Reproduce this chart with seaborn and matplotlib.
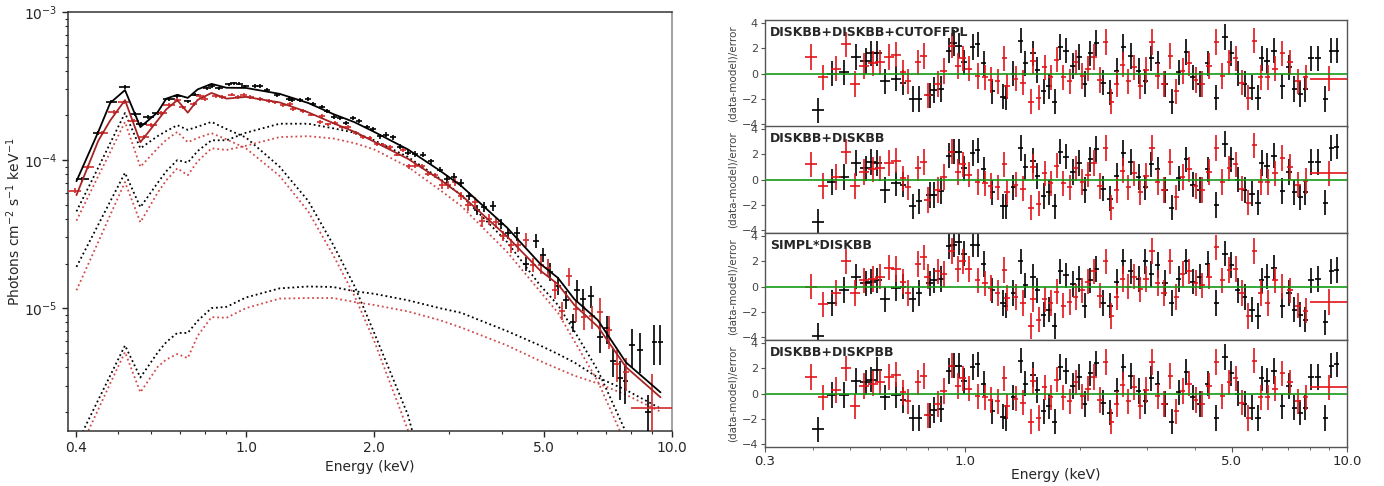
import numpy as np
import pandas as pd
import matplotlib
matplotlib.use("Agg")
import matplotlib.pyplot as plt
from matplotlib.ticker import FixedLocator, FixedFormatter, NullFormatter
import seaborn as sns

sns.set_style("ticks")
plt.rcParams['font.family'] = ['DejaVu Sans']

# ---------- model curves (left panel) ----------
model_e = [0.40, 0.45, 0.48, 0.52, 0.565, 0.62, 0.65, 0.69, 0.73, 0.77, 0.83, 0.90, 1.0, 1.2,
           1.4, 1.6, 1.8, 2.0, 2.4, 2.85, 3.2, 4.1, 4.9, 5.4, 5.9, 6.7, 7.8, 9.4]
nan = np.nan
tot_b = [7.2e-5, 1.55e-4, 2.43e-4, 2.97e-4, 1.67e-4, 2.1e-4, 2.6e-4, 2.76e-4, 2.63e-4, 3.0e-4,
         3.27e-4, 3.08e-4, 3.07e-4, 2.8e-4, 2.43e-4, 2.05e-4, 1.8e-4, 1.55e-4, 1.18e-4, 8.5e-5,
         6.7e-5, 3.5e-5, 2.0e-5, 1.6e-5, 1.15e-5, 8.3e-6, 4.3e-6, 2.7e-6]
tot_r = [5.8e-5, 1.35e-4, 1.85e-4, 2.54e-4, 1.32e-4, 1.85e-4, 2.2e-4, 2.54e-4, 2.09e-4, 2.55e-4,
         2.84e-4, 2.6e-4, 2.67e-4, 2.45e-4, 2.1e-4, 1.78e-4, 1.55e-4, 1.33e-4, 1.02e-4, 7.4e-5,
         5.8e-5, 3.05e-5, 1.8e-5, 1.45e-5, 1.05e-5, 7.5e-6, 4.0e-6, 2.5e-6]
cool_b = [4.5e-5, 8.9e-5, 1.3e-4, 2.08e-4, 1.2e-4, 1.45e-4, 1.57e-4, 1.72e-4, 1.6e-4, 1.68e-4,
          1.81e-4, 1.62e-4, 1.42e-4, 9.0e-5, 5.3e-5, 2.7e-5, 1.4e-5, 6.8e-6, 1.9e-6, 3.0e-7,
          nan, nan, nan, nan, nan, nan, nan, nan]
cool_r = [3.9e-5, 7.8e-5, 1.13e-4, 1.81e-4, 9.0e-5, 1.2e-4, 1.37e-4, 1.55e-4, 1.32e-4, 1.41e-4,
          1.52e-4, 1.38e-4, 1.2e-4, 7.8e-5, 4.5e-5, 2.3e-5, 1.2e-5, 6.0e-6, 1.5e-6, 2.5e-7,
          nan, nan, nan, nan, nan, nan, nan, nan]
hot_b = [1.9e-5, 3.66e-5, 5.25e-5, 8.2e-5, 4.8e-5, 7.0e-5, 8.4e-5, 1.0e-4, 9.6e-5, 1.15e-4,
         1.36e-4, 1.36e-4, 1.53e-4, 1.76e-4, 1.76e-4, 1.64e-4, 1.53e-4, 1.36e-4, 1.05e-4, 7.5e-5,
         5.8e-5, 2.8e-5, 1.43e-5, 1.05e-5, 7.0e-6, 3.8e-6, 1.45e-6, 3.0e-7]
hot_r = [1.32e-5, 2.8e-5, 4.25e-5, 7.1e-5, 3.8e-5, 6.0e-5, 7.3e-5, 8.8e-5, 7.9e-5, 9.8e-5,
         1.2e-4, 1.17e-4, 1.25e-4, 1.43e-4, 1.45e-4, 1.4e-4, 1.3e-4, 1.18e-4, 9.0e-5, 6.3e-5,
         4.9e-5, 2.4e-5, 1.3e-5, 9.3e-6, 6.0e-6, 3.2e-6, 1.2e-6, 2.5e-7]
cpl_b = [1.2e-6, 2.4e-6, 3.5e-6, 5.6e-6, 3.4e-6, 5.0e-6, 5.9e-6, 6.8e-6, 6.8e-6, 8.2e-6,
         1.0e-5, 1.02e-5, 1.18e-5, 1.36e-5, 1.4e-5, 1.39e-5, 1.3e-5, 1.25e-5, 1.13e-5, 1.0e-5,
         9.3e-6, 7.0e-6, 5.6e-6, 4.9e-6, 4.3e-6, 3.4e-6, 2.8e-6, 2.1e-6]
cpl_r = [1.0e-6, 2.07e-6, 3.1e-6, 5.05e-6, 2.7e-6, 4.0e-6, 4.5e-6, 4.9e-6, 4.6e-6, 6.5e-6,
         8.7e-6, 8.6e-6, 1.0e-5, 1.16e-5, 1.17e-5, 1.17e-5, 1.1e-5, 1.05e-5, 9.5e-6, 8.3e-6,
         7.4e-6, 5.6e-6, 4.4e-6, 3.9e-6, 3.5e-6, 3.1e-6, 2.6e-6, 2.0e-6]

# ---------- data points (black = first spectrum, red = second) ----------
e_b = [0.413, 0.45, 0.483, 0.52, 0.55, 0.568, 0.59, 0.62, 0.66, 0.69, 0.73, 0.76, 0.81, 0.83,
       0.865, 0.91, 0.935, 0.965, 0.995,
       1.05, 1.08, 1.12, 1.18, 1.26, 1.28, 1.34, 1.40, 1.44, 1.51, 1.55, 1.61, 1.66, 1.72, 1.78,
       1.84, 1.92, 1.99,
       2.06, 2.13, 2.21, 2.30, 2.40, 2.50, 2.60, 2.72, 2.85,
       2.97, 3.08, 3.20, 3.34,
       3.48, 3.63, 3.80, 3.96, 4.12,
       4.32, 4.55, 4.80, 4.98,
       5.18, 5.40, 5.65, 5.85,
       5.98, 6.18, 6.45,
       6.78, 7.05, 7.28,
       7.55, 7.78, 8.05, 8.40, 8.78, 9.10, 9.40]
flux_b = [7.4e-5, 1.52e-4, 2.48e-4, 3.12e-4, 2.05e-4, 1.75e-4, 1.95e-4, 2.08e-4, 2.58e-4, 2.7e-4,
          2.5e-4, 2.76e-4, 3.05e-4, 3.16e-4, 3.05e-4, 3.25e-4, 3.3e-4, 3.28e-4, 3.15e-4,
          3.18e-4, 3.16e-4, 2.97e-4, 2.73e-4, 2.57e-4, 2.53e-4, 2.54e-4, 2.6e-4, 2.4e-4, 2.3e-4,
          2.16e-4, 1.96e-4, 1.92e-4, 1.79e-4, 1.93e-4, 1.84e-4, 1.68e-4, 1.62e-4,
          1.45e-4, 1.48e-4, 1.43e-4, 1.23e-4, 1.12e-4, 1.1e-4, 1.09e-4, 9.8e-5, 8.6e-5,
          7.5e-5, 7.7e-5, 7.0e-5, 5.7e-5,
          4.6e-5, 4.85e-5, 4.9e-5, 3.7e-5, 3.2e-5,
          3.2e-5, 2.0e-5, 2.85e-5, 2.3e-5,
          1.76e-5, 1.42e-5, 1.14e-5, 8.0e-6,
          1.33e-5, 1.15e-5, 1.2e-5,
          6.4e-6, 7.3e-6, 4.4e-6,
          3.4e-6, 3.2e-6, 5.6e-6, 5.2e-6, 2.0e-6, 5.9e-6, 5.9e-6]
relerr_b = ([0.035, 0.03, 0.028, 0.025, 0.028, 0.028, 0.027, 0.027, 0.025, 0.025] + [0.025] * 9
            + [0.03] * 18 + [0.04] * 9 + [0.06] * 4 + [0.08] * 5 + [0.11] * 4 + [0.14] * 4
            + [0.17] * 3 + [0.22] * 3 + [0.3] * 7)
halfw_b = [0.035] + [0.03] * 8 + [0.02] * 10 + [0.016] * 57

e_r = [0.396, 0.426, 0.46, 0.49, 0.517, 0.545, 0.575, 0.60, 0.633, 0.66, 0.69, 0.71, 0.754, 0.78,
       0.80, 0.85, 0.88, 0.925, 0.96, 0.988, 1.024,
       1.08, 1.13, 1.17, 1.22, 1.27, 1.29, 1.36, 1.42, 1.49, 1.51, 1.56, 1.62, 1.68, 1.74, 1.81,
       1.88, 1.95, 2.03, 2.10, 2.18, 2.26, 2.34,
       2.42, 2.50, 2.59, 2.68, 2.78,
       2.88, 2.98, 3.09, 3.20,
       3.32, 3.45, 3.58, 3.72, 3.86, 4.02,
       4.18, 4.36, 4.55, 4.72,
       4.92, 5.12, 5.32, 5.52, 5.72,
       5.95, 6.20, 6.48,
       6.78, 7.10, 7.45, 7.80,
       9.00]
flux_r = [6.2e-5, 9.0e-5, 1.52e-4, 2.12e-4, 2.45e-4, 1.85e-4, 1.43e-4, 1.72e-4, 2.07e-4, 2.37e-4,
          2.55e-4, 2.27e-4, 2.4e-4, 2.7e-4, 2.58e-4, 2.72e-4, 2.67e-4, 2.77e-4, 2.68e-4, 2.74e-4,
          2.67e-4,
          2.57e-4, 2.5e-4, 2.45e-4, 2.37e-4, 2.4e-4, 2.22e-4, 2.15e-4, 2.03e-4, 1.82e-4, 1.98e-4,
          1.74e-4, 1.78e-4, 1.66e-4, 1.67e-4, 1.53e-4, 1.44e-4, 1.42e-4, 1.29e-4, 1.26e-4,
          1.23e-4, 1.09e-4, 1.17e-4,
          9.1e-5, 9.15e-5, 9.1e-5, 8.1e-5, 7.9e-5,
          6.8e-5, 6.8e-5, 7.1e-5, 5.7e-5,
          4.95e-5, 5.2e-5, 3.85e-5, 3.99e-5, 3.8e-5, 3.08e-5,
          2.65e-5, 2.69e-5, 2.9e-5, 1.97e-5,
          1.97e-5, 1.88e-5, 1.33e-5, 9.6e-6, 1.65e-5,
          9.8e-6, 8.7e-6, 8.8e-6,
          9.4e-6, 7.1e-6, 4.2e-6, 3.7e-6,
          2.1e-6]
relerr_r = ([0.04, 0.035] + [0.03] * 8 + [0.028] * 11 + [0.03] * 22 + [0.04] * 5 + [0.06] * 4
            + [0.08] * 6 + [0.11] * 4 + [0.14] * 5 + [0.18] * 3 + [0.25] * 4 + [0.7])
halfw_r = [0.035] + [0.03] * 9 + [0.02] * 11 + [0.016] * 53 + [0.111]

# ---------- residuals, (data-model)/error, for the four fits ----------
panel_labels = ["DISKBB+DISKBB+CUTOFFPL", "DISKBB+DISKBB", "SIMPL*DISKBB", "DISKBB+DISKPBB"]

res1_b = [-2.9, 0.0, 0.1, 1.3, 1.0, 1.6, 1.6, -0.6, -0.4, -0.7, -2.0, -2.0, -1.7, -1.3, -1.2, 1.8, 2.4, 2.2, 0.9,
          2.1, 2.3, 0.8, -1.4, -1.8, -1.9, 0.0, 2.6, 0.8, 1.6, 0.3, -1.4, -1.0, -2.2, 2.1, 1.8, 0.6, 1.3,
          -0.8, 1.6, 2.4, -0.7, -1.5, 0.2, 2.1, 1.4, 0.2,
          -0.6, 1.2, 0.8, -0.8,
          -2.2, 0.1, 1.7, -0.3, -0.8,
          0.8, -1.9, 2.9, 1.6,
          0.0, -0.8, -1.1, -1.9,
          1.2, 1.0, 1.8,
          -1.0, 0.5, -1.2,
          -1.6, -1.2, 1.2, 1.2, -2.0, 1.8, 1.8]
res1_r = [1.3, -0.3, 0.4, 2.3, -0.8, 0.6, 0.8, 0.9, 1.3, 1.5, 0.1, -0.6, 0.9, 1.4, -1.7, -0.8, 0.2, 2.2, 0.6, 1.2, 0.4,
          -0.2, -0.3, -0.5, -0.6, 1.2, -1.0, -0.4, -0.7, -2.2, 1.0, -1.9, 0.5, -0.3, 1.1, -0.3, -0.6, 0.9, -0.2,
          0.4, 1.3, -0.5, 2.5,
          -2.2, -0.8, 0.7, -0.6, 0.5,
          -1.0, 0.3, 2.5, -0.2,
          -0.8, 1.4, -1.4, 0.2, 0.8, -0.5,
          -0.8, 0.6, 2.5, -0.2,
          0.9, 1.2, -0.7, -1.9, 2.6,
          -0.3, -0.3, 0.4,
          1.6, 0.9, -0.6, -0.3,
          -0.4]

res2_b = [-3.3, -0.2, 0.2, 1.3, 0.9, 1.4, 1.3, -0.8, -0.3, -0.4, -2.1, -1.7, -1.2, -1.2, -0.9, 1.9, 2.2, 2.2, 0.9,
          2.1, 2.3, 0.8, -1.0, -2.1, -2.1, -0.6, 2.5, 1.0, 1.5, 0.3, -1.3, -1.0, -2.1, 2.2, 1.8, 0.6, 1.3,
          -0.8, 1.6, 2.4, -0.7, -1.5, 0.3, 2.1, 1.4, 0.2,
          -0.6, 1.2, 0.8, -0.8,
          -2.2, 0.1, 1.6, -0.4, -0.8,
          0.8, -2.0, 2.8, 1.6,
          0.0, -0.8, -1.1, -1.8,
          1.3, 1.1, 1.9,
          -0.9, 0.6, -1.0,
          -1.4, -1.0, 1.4, 1.4, -1.8, 2.5, 2.6]
res2_r = [1.2, -0.5, 0.2, 2.2, -0.5, 0.6, 0.8, 0.9, 1.3, 1.5, 0.1, -0.6, 0.9, 1.4, -1.6, -0.8, 0.2, 2.2, 0.6, 1.2, 0.4,
          -0.2, -0.3, -0.5, -0.6, 1.2, -1.0, -0.4, -0.7, -2.2, 1.0, -1.9, 0.5, -0.3, 1.1, -0.3, -0.6, 0.9, -0.2,
          0.4, 1.3, -0.5, 2.5,
          -2.2, -0.8, 0.7, -0.6, 0.5,
          -1.0, 0.3, 2.5, -0.2,
          -0.8, 1.4, -1.4, 0.2, 0.8, -0.5,
          -0.8, 0.6, 2.5, -0.2,
          0.9, 1.2, -0.7, -1.8, 2.7,
          -0.2, -0.2, 0.5,
          1.7, 1.0, -0.4, -0.1,
          0.5]

res3_b = [-3.9, -1.3, -0.25, 0.8, 0.25, 0.4, 0.5, -1.0, -0.1, 0.0, -1.0, -0.5, 0.25, 0.5, 0.6, 3.2, 3.3, 3.5, 2.6,
          3.3, 3.3, 1.8, -0.3, -1.3, -1.5, -0.5, 2.0, 0.1, 0.8, -0.3, -2.2, -1.8, -3.1, 1.2, 0.9, 0.2, 0.6,
          -1.5, 0.5, 1.4, -1.3, -1.5, 0.4, 2.0, 1.2, 0.6,
          2.0, 1.0, 1.7, 0.3,
          -1.3, 0.6, 2.0, 0.4, 0.8,
          1.8, -1.3, 2.6, 1.7,
          -0.3, -0.8, -1.8, -2.3,
          0.5, 0.8, 1.5,
          -1.5, -0.5, -1.8,
          -2.2, -2.6, 0.5, 0.6, -2.8, 1.2, 1.3]
res3_r = [0.0, -1.4, -0.5, 2.0, -0.5, 0.5, 0.6, 0.8, 1.5, 1.4, 0.4, -0.5, 1.8, 2.3, 0.8, 1.2, 1.0, 2.8, 1.4, 2.0, 1.4,
          0.5, 0.25, -0.1, -0.5, 1.3, -0.9, -0.8, -1.3, -3.1, -1.0, -2.6, -1.0, -1.3, -0.4, -1.5, -1.2, -0.8, -0.3,
          0.4, 1.2, -0.7, 2.0,
          -2.3, -0.8, 0.6, 0.0, 0.8,
          -0.2, 0.6, 2.8, 0.3,
          -0.5, 2.0, -0.8, 1.0, 1.2, 0.3,
          0.1, 0.8, 3.1, 0.5,
          1.3, 1.4, -0.5, -2.3, 2.8,
          -0.5, -1.3, 0.5,
          0.0, -0.3, -1.5, -1.9,
          -1.2]

res4_b = [-2.8, -0.1, -0.1, 1.0, 0.9, 1.1, 1.9, -0.3, -0.1, -0.5, -1.9, -1.9, -1.7, -1.3, -1.2, 1.8, 2.2, 2.2, 1.0,
          2.1, 2.3, 0.8, -1.4, -1.8, -1.9, -0.3, 2.6, 0.8, 1.5, 0.3, -1.4, -1.0, -2.2, 2.1, 1.8, 0.6, 1.3,
          -0.8, 1.6, 2.4, -0.7, -1.5, 0.2, 2.1, 1.4, 0.2,
          -0.6, 1.2, 0.8, -0.8,
          -2.2, 0.1, 1.7, -0.3, -0.8,
          0.8, -1.9, 2.9, 1.6,
          0.0, -0.8, -1.1, -1.9,
          1.2, 1.0, 1.8,
          -1.0, 0.6, -1.1,
          -1.5, -1.1, 1.3, 1.3, -1.9, 2.2, 2.3]
res4_r = [1.3, -0.3, 0.3, 2.0, -1.0, 0.6, 0.8, 0.9, 1.3, 1.5, 0.1, -0.6, 0.9, 1.4, -1.7, -0.8, 0.2, 2.2, 0.6, 1.2, 0.4,
          -0.2, -0.3, -0.5, -0.6, 1.2, -1.0, -0.4, -0.7, -2.2, 1.0, -1.9, 0.5, -0.3, 1.1, -0.3, -0.6, 0.9, -0.2,
          0.4, 1.3, -0.5, 2.5,
          -2.2, -0.8, 0.7, -0.6, 0.5,
          -1.0, 0.3, 2.5, -0.2,
          -0.8, 1.4, -1.4, 0.2, 0.8, -0.5,
          -0.8, 0.6, 2.5, -0.2,
          0.9, 1.2, -0.7, -1.9, 2.6,
          -0.3, -0.3, 0.4,
          1.6, 0.9, -0.6, -0.3,
          0.5]

# colours
BLACK = "black"
RED_DATA = "#d42a2a"
RED_MODEL = "#a82424"
RED_DOT = "#d04a4a"
RED_RES = "#e3141a"
GREEN = "#169a16"

fig = plt.figure(figsize=(13.84, 4.86), dpi=100)

# ---------- left: unfolded spectrum ----------
ax = fig.add_axes([0.0491, 0.1132, 0.4364, 0.8621])
ax.set_xscale("log")
ax.set_yscale("log")

dot = (0, (1, 1.6))
for comp, col in [(cool_b, BLACK), (hot_b, BLACK), (cpl_b, BLACK),
                  (cool_r, RED_DOT), (hot_r, RED_DOT), (cpl_r, RED_DOT)]:
    sns.lineplot(x=model_e, y=comp, ax=ax, color=col, lw=1.3, linestyle=dot,
                 estimator=None, sort=False)

eb = np.array(e_b)
fb = np.array(flux_b)
er = np.array(e_r)
fr = np.array(flux_r)
ax.errorbar(eb, fb, xerr=eb * np.array(halfw_b), yerr=fb * np.array(relerr_b),
            fmt="none", ecolor=BLACK, elinewidth=1.2, zorder=3)
ax.errorbar(er, fr, xerr=er * np.array(halfw_r), yerr=fr * np.array(relerr_r),
            fmt="none", ecolor=RED_DATA, elinewidth=1.2, zorder=3)

sns.lineplot(x=model_e, y=tot_b, ax=ax, color=BLACK, lw=1.3, estimator=None, sort=False, zorder=4)
sns.lineplot(x=model_e, y=tot_r, ax=ax, color=RED_MODEL, lw=1.3, estimator=None, sort=False, zorder=4)

ax.set_xlim(0.382, 10)
ax.set_ylim(1.48e-6, 1e-3)
ax.xaxis.set_major_locator(FixedLocator([0.4, 1, 2, 5, 10]))
ax.xaxis.set_major_formatter(FixedFormatter(["0.4", "1.0", "2.0", "5.0", "10.0"]))
ax.xaxis.set_minor_locator(FixedLocator([0.5, 0.6, 0.7, 0.8, 0.9, 3, 4, 6, 7, 8, 9]))
ax.xaxis.set_minor_formatter(NullFormatter())
ax.tick_params(which="major", length=4, width=1, labelsize=10, direction="out")
ax.tick_params(which="minor", length=2.5, width=0.8, direction="out")
ax.set_xlabel("Energy (keV)", fontsize=10, labelpad=3)
ax.set_ylabel(r"Photons cm$^{-2}$ s$^{-1}$ keV$^{-1}$", fontsize=10, labelpad=1)
for s in ax.spines.values():
    s.set_color("#333333")
    s.set_linewidth(1.1)
ax.spines["right"].set_color("#888888")

# ---------- right: residual panels ----------
residuals = [(res1_b, res1_r), (res2_b, res2_r), (res3_b, res3_r), (res4_b, res4_r)]
bottoms = [0.7387, 0.5206, 0.3004, 0.0802]
for i, (label, (rb, rr)) in enumerate(zip(panel_labels, residuals)):
    rax = fig.add_axes([0.5527, bottoms[i], 0.4205, 0.2195])
    rax.set_xscale("log")
    rax.errorbar(eb, rb, xerr=eb * np.array(halfw_b), yerr=1.0, fmt="none",
                 ecolor=BLACK, elinewidth=1.2, zorder=2)
    rax.errorbar(er, rr, xerr=er * np.array(halfw_r), yerr=1.0, fmt="none",
                 ecolor=RED_RES, elinewidth=1.2, zorder=3)
    rax.axhline(0, color=GREEN, lw=1.2, zorder=5)
    rax.set_xlim(0.3, 10)
    rax.set_ylim(-4.2, 4.2)
    rax.set_yticks([-4, -2, 0, 2, 4])
    rax.tick_params(axis="y", labelsize=8, labelcolor="#444444", length=3, pad=2, color="#555555")
    rax.set_ylabel("(data-model)/error", fontsize=7.5, color="#444444", labelpad=3)
    rax.text(0.009, 0.945, label, transform=rax.transAxes, fontsize=9,
             fontweight="bold", va="top", ha="left", zorder=6)
    for s in rax.spines.values():
        s.set_color("#555555")
        s.set_linewidth(1.0)
    rax.xaxis.set_major_locator(FixedLocator([0.3, 1, 5, 10]))
    rax.xaxis.set_minor_locator(FixedLocator([0.4, 0.5, 0.6, 0.7, 0.8, 0.9, 2, 3, 4, 6, 7, 8, 9]))
    rax.xaxis.set_minor_formatter(NullFormatter())
    if i < 3:
        rax.tick_params(axis="x", which="both", bottom=False, labelbottom=False)
    else:
        rax.xaxis.set_major_formatter(FixedFormatter(["0.3", "1.0", "5.0", "10.0"]))
        rax.tick_params(axis="x", which="major", labelsize=9.5, length=3.5, pad=2, color="#555555")
        rax.tick_params(axis="x", which="minor", length=2.5, color="#555555")
        rax.set_xlabel("Energy (keV)", fontsize=10, labelpad=0)

fig.savefig("out.png", dpi=100)
